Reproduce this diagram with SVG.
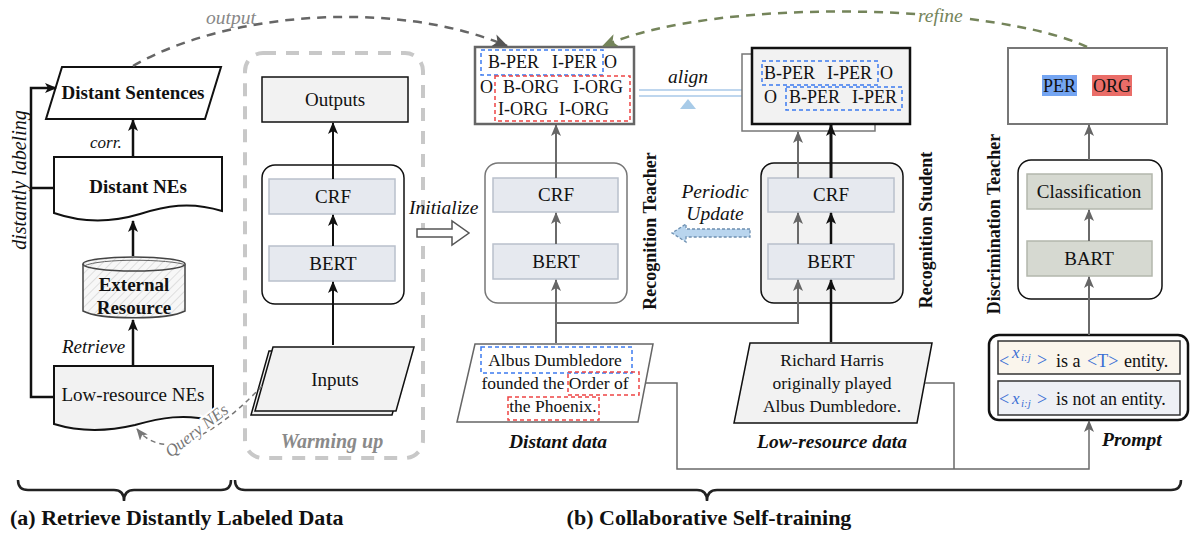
<svg xmlns="http://www.w3.org/2000/svg" width="1197" height="534" viewBox="0 0 1197 534">
<style>
text{font-family:"Liberation Serif","Times New Roman","DejaVu Serif",serif;fill:#111}
.t{font-size:19px}
.g{font-size:18px}
.c{text-anchor:middle}
.b{font-weight:bold}
.i{font-style:italic}
.lab{font-size:19.5px;font-weight:bold;font-style:italic}
.it{font-size:19.5px;font-style:italic}
.blk{fill:none;stroke:#111;stroke-width:2.5}
.gry{fill:none;stroke:#6a6a6a;stroke-width:2}
.inner{fill:#e6e9ef;stroke:#b9c0cc;stroke-width:1.5}
.green{fill:#d6d9d1;stroke:#b3b7ac;stroke-width:1.5}
.bd{fill:none;stroke:#3d7bf0;stroke-width:1.5;stroke-dasharray:4 3}
.rd{fill:none;stroke:#ee4444;stroke-width:1.5;stroke-dasharray:4 3}
.bl{fill:#3b6fd4}
</style>
<defs>
<marker id="aB" viewBox="0 0 12 10" refX="11" refY="5" markerWidth="12" markerHeight="10" markerUnits="userSpaceOnUse" orient="auto"><path d="M0,0 L12,5 L0,10 L3,5 z" fill="#111"/></marker>
<marker id="aG" viewBox="0 0 12 10" refX="11" refY="5" markerWidth="12" markerHeight="10" markerUnits="userSpaceOnUse" orient="auto"><path d="M0,0 L12,5 L0,10 L3,5 z" fill="#666"/></marker>
<marker id="aD" viewBox="0 0 12 10" refX="11" refY="5" markerWidth="16" markerHeight="13" markerUnits="userSpaceOnUse" orient="auto"><path d="M0,0 L12,5 L0,10 L3,5 z" fill="#555"/></marker>
<marker id="aO" viewBox="0 0 12 10" refX="11" refY="5" markerWidth="16" markerHeight="13" markerUnits="userSpaceOnUse" orient="auto"><path d="M0,0 L12,5 L0,10 L3,5 z" fill="#74845a"/></marker>
<marker id="aQ" viewBox="0 0 12 10" refX="11" refY="5" markerWidth="12" markerHeight="10" markerUnits="userSpaceOnUse" orient="auto"><path d="M0,0 L12,5 L0,10 L3,5 z" fill="#777"/></marker>
<pattern id="hatch" width="6" height="6" patternUnits="userSpaceOnUse" patternTransform="rotate(45)"><rect width="6" height="6" fill="#f7f7f7"/><line x1="0" y1="0" x2="0" y2="6" stroke="#d6d6d6" stroke-width="1.5"/></pattern>
</defs>

<!-- Left section -->
<g id="distant-sentences">
<path d="M62 67 L221 67 L205 119 L46 119 Z" fill="#fff" stroke="#111" stroke-width="2"/>
<text class="t b c" x="133" y="99">Distant Sentences</text>
</g>
<g id="distant-nes">
<path d="M54 157 H222 V211 C190 201 165 206 140 214 C110 223 80 222 54 213 Z" fill="#fff" stroke="#111" stroke-width="2"/>
<text class="t b c" x="138" y="193">Distant NEs</text>
</g>
<g id="external-resource">
<path d="M83 264 V311 C100 320 168 320 185 311 V264" fill="url(#hatch)" stroke="#444" stroke-width="1.5"/>
<ellipse cx="134" cy="264" rx="51" ry="7" fill="url(#hatch)" stroke="#444" stroke-width="1.5"/>
<path d="M84 266 C100 258 170 259 186 265" fill="none" stroke="#666" stroke-width="1"/>
<text class="t b c" x="134" y="291">External</text>
<text class="t b c" x="134" y="314">Resource</text>
</g>
<g id="low-resource-nes">
<path d="M54 366 H213 V421 C185 413 160 418 135 425 C105 432 80 432 54 424 Z" fill="#f2f2f2" stroke="#111" stroke-width="2"/>
<text class="t c" x="133" y="401">Low-resource NEs</text>
</g>
<text class="i c" font-size="20" transform="translate(26,180) rotate(-90)">distantly labeling</text>
<text class="i" font-size="17" x="90" y="148">corr.</text>
<text class="i" font-size="19" x="62" y="353">Retrieve</text>

<!-- Warming up -->
<g id="warming-up">
<rect x="245" y="53" width="178" height="405" rx="18" fill="none" stroke="#c8c8c8" stroke-width="4" stroke-dasharray="13 10"/>
<text class="lab c" x="332" y="448" style="fill:#8a8a8a;font-size:20px">Warming up</text>
</g>
<g id="warm-outputs">
<rect x="262" y="77" width="146" height="45" fill="#f2f2f2" stroke="#111" stroke-width="1.5"/>
<text class="t c" x="335" y="106">Outputs</text>
</g>
<g id="warm-model">
<rect x="262" y="165" width="142" height="139" rx="13" fill="#fff" stroke="#111" stroke-width="1.5"/>
<rect class="inner" x="269" y="179" width="126" height="35"/>
<text class="t c" x="333" y="203">CRF</text>
<rect class="inner" x="269" y="246" width="126" height="35"/>
<text class="t c" x="333" y="270">BERT</text>
</g>
<g id="warm-inputs">
<path d="M269 351 L410 351 L392 415 L251 415 Z" fill="#f2f2f2" stroke="#111" stroke-width="1.5"/>
<path d="M273 347 L414 347 L396 411 L255 411 Z" fill="#f2f2f2" stroke="#111" stroke-width="1.5"/>
<text class="t c" x="335" y="386">Inputs</text>
</g>
<g id="initialize">
<path d="M417 229 H452 V221 L469 233 L452 245 V237 H417 Z" fill="#fff" stroke="#555" stroke-width="1.5"/>
<text class="it" x="409" y="214">Initialize</text>
</g>

<!-- Teacher -->
<g id="teacher-output">
<rect x="475" y="47" width="159" height="77" fill="#fff" stroke="#666" stroke-width="2.5"/>
<rect class="bd" x="481" y="50" width="122" height="25"/>
<rect class="rd" x="495" y="76" width="135" height="45"/>
<text class="g" x="488" y="68">B-PER</text><text class="g" x="552" y="68">I-PER</text><text class="g" x="604" y="68">O</text>
<text class="g" x="480" y="93">O</text><text class="g" x="503" y="93">B-ORG</text><text class="g" x="573" y="93">I-ORG</text>
<text class="g" x="498" y="115">I-ORG</text><text class="g" x="559" y="115">I-ORG</text>
</g>
<g id="recognition-teacher">
<rect x="485" y="163" width="142" height="140" rx="13" fill="#fff" stroke="#777" stroke-width="1.5"/>
<rect class="inner" x="493" y="178" width="125" height="34"/>
<text class="t c" x="556" y="201">CRF</text>
<rect class="inner" x="493" y="244" width="125" height="35"/>
<text class="t c" x="556" y="268">BERT</text>
<text class="g b c" transform="translate(656,231) rotate(-90)">Recognition Teacher</text>
</g>
<g id="distant-data">
<path d="M475 344 L653 344 L638 422 L457 422 Z" fill="#fff" stroke="#666" stroke-width="1.5"/>
<rect class="bd" x="481" y="347" width="151" height="26"/>
<rect class="rd" x="568" y="372" width="71" height="23"/>
<rect class="rd" x="508" y="397" width="91" height="23"/>
<text class="c" font-size="17.5" x="555" y="366">Albus Dumbledore</text>
<text class="c" font-size="17.5" x="555" y="389">founded the Order of</text>
<text class="c" font-size="17.5" x="553" y="412">the Phoenix.</text>
<text class="lab c" x="558" y="448">Distant data</text>
</g>
<g id="align">
<line x1="639" y1="90" x2="742" y2="90" stroke="#a8c8e8" stroke-width="1.5"/>
<line x1="639" y1="96" x2="742" y2="96" stroke="#a8c8e8" stroke-width="1.5"/>
<path d="M680 109 L688 99 L696 109 Z" fill="#a8cbe8"/>
<text class="it" x="668" y="83">align</text>
</g>

<!-- Student -->
<g id="student-output">
<rect x="742" y="54" width="133" height="77" fill="#fff" stroke="#777" stroke-width="1.5"/>
<rect x="752" y="48" width="158" height="76" fill="#f2f2f2" stroke="#111" stroke-width="2.5"/>
<rect class="bd" x="762" y="61" width="116" height="24"/>
<rect class="bd" x="786" y="87" width="116" height="23"/>
<text class="g" x="764" y="79">B-PER</text><text class="g" x="827" y="79">I-PER</text><text class="g" x="880" y="79">O</text>
<text class="g" x="764" y="103">O</text><text class="g" x="789" y="103">B-PER</text><text class="g" x="852" y="103">I-PER</text>
</g>
<g id="recognition-student">
<rect x="761" y="163" width="142" height="140" rx="13" fill="#f2f2f2" stroke="#111" stroke-width="1.5"/>
<rect class="inner" x="768" y="178" width="126" height="34"/>
<text class="t c" x="831" y="201">CRF</text>
<rect class="inner" x="768" y="244" width="126" height="35"/>
<text class="t c" x="831" y="268">BERT</text>
<text class="g b c" transform="translate(932,230) rotate(-90)">Recognition Student</text>
</g>
<g id="periodic-update">
<path d="M750 229 H686 V224 L672 233 L686 242 V237 H750 Z" fill="#b9d5ee" stroke="#6d8fb0" stroke-width="1.3" stroke-dasharray="3 2"/>
<text class="it c" x="715" y="198">Periodic</text>
<text class="it c" x="715" y="220">Update</text>
</g>
<g id="low-resource-data">
<path d="M750 343 L932 343 L917 423 L734 423 Z" fill="#f2f2f2" stroke="#111" stroke-width="1.5"/>
<text class="c" font-size="17.5" x="832" y="366">Richard Harris</text>
<text class="c" font-size="17.5" x="832" y="389">originally played</text>
<text class="c" font-size="17.5" x="832" y="412">Albus Dumbledore.</text>
<text class="lab c" x="832" y="448">Low-resource data</text>
</g>

<!-- Discrimination teacher -->
<g id="disc-output">
<rect x="1008" y="48" width="159" height="76" fill="#fff" stroke="#777" stroke-width="2"/>
<rect x="1042" y="75" width="35" height="21" fill="#74a5f2"/>
<rect x="1092" y="75" width="40" height="21" fill="#ea6d68"/>
<text class="g" x="1043" y="92">PER</text>
<text class="g" x="1093" y="92">ORG</text>
</g>
<g id="discrimination-teacher">
<rect x="1018" y="160" width="144" height="139" rx="13" fill="#fff" stroke="#111" stroke-width="1.5"/>
<rect class="green" x="1027" y="174" width="125" height="35"/>
<text class="t c" x="1089" y="198">Classification</text>
<rect class="green" x="1027" y="241" width="125" height="35"/>
<text class="t c" x="1089" y="265">BART</text>
<text class="g b c" transform="translate(1000,224) rotate(-90)">Discrimination Teacher</text>
</g>
<g id="prompt">
<rect x="989" y="335" width="199" height="85" rx="10" fill="#fff" stroke="#111" stroke-width="2.5"/>
<rect x="998" y="341" width="182" height="33" fill="#faf5ec" stroke="#333" stroke-width="1.5"/>
<rect x="998" y="381" width="182" height="34" fill="#eef0f5" stroke="#333" stroke-width="1.5"/>
<text class="g bl" x="999" y="367">&lt;</text>
<text class="i bl" font-size="17" x="1012" y="358">x</text>
<text class="i bl" font-size="11" x="1021" y="361">i:j</text>
<text class="g bl" x="1037" y="366">&gt;</text>
<text class="g" x="1056" y="367">is a</text>
<text class="g bl" x="1087" y="367">&lt;T&gt;</text>
<text class="g" x="1124" y="367">entity.</text>
<text class="g bl" x="999" y="405">&lt;</text>
<text class="i bl" font-size="17" x="1012" y="404">x</text>
<text class="i bl" font-size="11" x="1021" y="407">i:j</text>
<text class="g bl" x="1037" y="405">&gt;</text>
<text class="g" x="1056" y="405">is not an entity.</text>
<text class="lab" x="1102" y="446">Prompt</text>
</g>

<!-- Connectors -->
<g id="connectors">
<polyline class="blk" points="54,397 31,397 31,88 56,88" marker-end="url(#aB)"/>
<line class="blk" x1="31" y1="188" x2="54" y2="188"/>
<line class="blk" x1="133" y1="157" x2="133" y2="120" marker-end="url(#aB)"/>
<line class="blk" x1="133" y1="256" x2="133" y2="221" marker-end="url(#aB)"/>
<line class="blk" x1="133" y1="366" x2="133" y2="320" marker-end="url(#aB)"/>
<line class="blk" style="stroke-width:2" x1="333" y1="345" x2="333" y2="282" marker-end="url(#aB)"/>
<line class="blk" style="stroke-width:2" x1="333" y1="246" x2="333" y2="215" marker-end="url(#aB)"/>
<line class="blk" style="stroke-width:2" x1="333" y1="179" x2="333" y2="123" marker-end="url(#aB)"/>
<line class="gry" x1="556" y1="343" x2="556" y2="280" marker-end="url(#aG)"/>
<line class="gry" x1="556" y1="244" x2="556" y2="213" marker-end="url(#aG)"/>
<line class="gry" x1="556" y1="178" x2="556" y2="125" marker-end="url(#aG)"/>
<polyline class="gry" points="556,323 798,323 798,280" marker-end="url(#aG)"/>
<line class="gry" x1="798" y1="244" x2="798" y2="213" marker-end="url(#aG)"/>
<line class="gry" x1="798" y1="178" x2="798" y2="132" marker-end="url(#aG)"/>
<line class="blk" x1="831" y1="342" x2="831" y2="280" marker-end="url(#aB)"/>
<line class="blk" x1="831" y1="244" x2="831" y2="213" marker-end="url(#aB)"/>
<line class="blk" style="stroke-width:3" x1="831" y1="178" x2="831" y2="125" marker-end="url(#aB)"/>
<line class="gry" x1="1089" y1="335" x2="1089" y2="277" marker-end="url(#aG)"/>
<line class="gry" x1="1089" y1="241" x2="1089" y2="210" marker-end="url(#aG)"/>
<line class="gry" x1="1089" y1="160" x2="1089" y2="125" marker-end="url(#aG)"/>
<polyline class="gry" style="stroke-width:1.5" points="645,383 677,383 677,469 1089,469 1089,421" marker-end="url(#aG)"/>
<polyline class="gry" style="stroke-width:1.5" points="925,383 954,383 954,469"/>
<path d="M133 66 C230 10 400 0 507 46" fill="none" stroke="#666" stroke-width="2.5" stroke-dasharray="9 7" marker-end="url(#aD)"/>
<path d="M1087 47 C1000 5 720 -5 603 46" fill="none" stroke="#74845a" stroke-width="2.5" stroke-dasharray="9 7" marker-end="url(#aO)"/>
<path d="M262 386 C230 420 170 470 137 429" fill="none" stroke="#777" stroke-width="1.5" stroke-dasharray="5 4" marker-end="url(#aQ)"/>
<text class="it" x="206" y="24" style="fill:#888">output</text>
<text class="it" x="918" y="22" style="fill:#74845a;stroke:#fff;stroke-width:6;paint-order:stroke">refine</text>
<text class="i" font-size="17" transform="translate(200,435) rotate(-38)" text-anchor="middle" style="fill:#777;stroke:#fff;stroke-width:4;paint-order:stroke">Query NEs</text>
</g>

<!-- Braces -->
<g id="braces">
<path d="M18 480 Q18 490 28 490 H114 Q124 490 124 501 Q124 490 134 490 H221 Q231 490 231 480" fill="none" stroke="#222" stroke-width="2.5"/>
<path d="M235 480 Q235 490 245 490 H697 Q707 490 707 501 Q707 490 717 490 H1171 Q1181 490 1181 480" fill="none" stroke="#222" stroke-width="2.5"/>
<text class="b" font-size="22" x="10" y="525">(a) Retrieve Distantly Labeled Data</text>
<text class="b c" font-size="22" x="709" y="525">(b) Collaborative Self-training</text>
</g>
</svg>
